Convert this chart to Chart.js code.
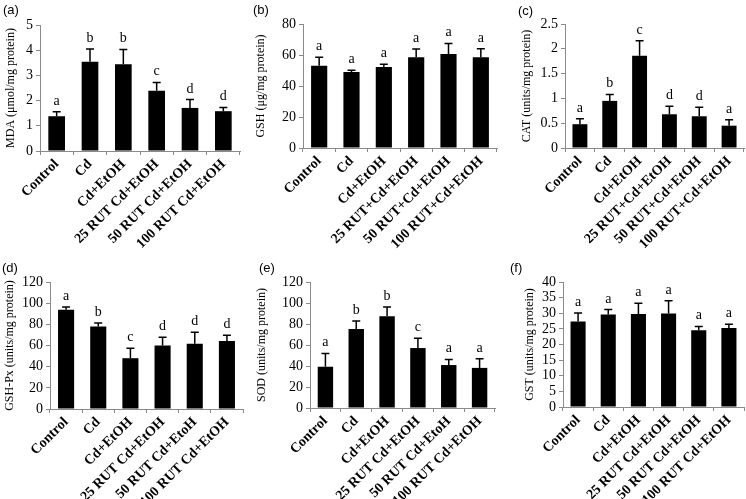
<!DOCTYPE html>
<html>
<head>
<meta charset="utf-8">
<script src="https://cdn.jsdelivr.net/npm/chart.js@4.4.1/dist/chart.umd.min.js"></script>
<style>
  body { margin: 0; background: #fff; }
  #wrap { position: relative; width: 746px; height: 499px; overflow: hidden; }
  .panel { position: absolute; }
  .tag { position: absolute; font: 13px "Liberation Sans", Arial, sans-serif; color: #000; }
</style>
</head>
<body>
<div id="wrap"></div>
<script>
// group names (the labels differ a little from panel to panel, as in the figure)
const groupsA = ['Control', 'Cd', 'Cd+EtOH', '25 RUT Cd+EtOH', '50 RUT Cd+EtOH', '100 RUT Cd+EtOH'];
const groupsB = ['Control', 'Cd', 'Cd+EtOH', '25 RUT+Cd+EtOH', '50 RUT+Cd+EtOH', '100 RUT+Cd+EtOH'];
const groupsD = ['Control', 'Cd', 'Cd+EtOH', '25 RUT Cd+EtOH', '50 RUT Cd+EtoH', '100 RUT Cd+EtOH'];

// (a) MDA
const mdaMean = [1.38, 3.54, 3.44, 2.39, 1.71, 1.58];
const mdaErr = [0.18, 0.51, 0.59, 0.33, 0.33, 0.15];
const mdaLetters = ['a', 'b', 'b', 'c', 'd', 'd'];
const mdaTicks = [0, 1, 2, 3, 4, 5];

// (b) GSH
const gshMean = [53.1, 49.0, 52.2, 58.6, 60.6, 58.6];
const gshErr = [5.4, 1.1, 1.8, 5.2, 6.9, 5.5];
const gshLetters = ['a', 'a', 'a', 'a', 'a', 'a'];
const gshTicks = [0, 20, 40, 60, 80];

// (c) CAT
const catMean = [0.48, 0.95, 1.86, 0.68, 0.64, 0.45];
const catErr = [0.11, 0.13, 0.30, 0.16, 0.18, 0.12];
const catLetters = ['a', 'b', 'c', 'd', 'd', 'a'];
const catTicks = [0, 0.5, 1, 1.5, 2, 2.5];

// (d) GSH-Px
const gpxMean = [93.8, 78.0, 48.0, 60.0, 61.6, 64.2];
const gpxErr = [2.5, 3.3, 9.5, 7.9, 11.0, 5.4];
const gpxLetters = ['a', 'b', 'c', 'd', 'd', 'd'];
const gpxTicks = [0, 20, 40, 60, 80, 100, 120];

// (e) SOD
const sodMean = [39.3, 75.2, 87.3, 57.1, 40.9, 38.2];
const sodErr = [12.7, 7.7, 8.9, 9.3, 5.4, 8.7];
const sodLetters = ['a', 'b', 'b', 'c', 'a', 'a'];
const sodTicks = [0, 20, 40, 60, 80, 100, 120];

// (f) GST
const gstMean = [27.4, 29.6, 29.8, 29.9, 24.6, 25.3];
const gstErr = [2.7, 1.6, 3.4, 4.1, 1.2, 1.2];
const gstLetters = ['a', 'a', 'a', 'a', 'a', 'a'];
const gstTicks = [0, 5, 10, 15, 20, 25, 30, 35, 40];

const panels = [
  { tag: '(a)', title: 'MDA (\u03bcmol/mg protein)', labels: groupsA, mean: mdaMean, err: mdaErr, letters: mdaLetters, ticks: mdaTicks },
  { tag: '(b)', title: 'GSH (\u03bcg/mg protein)', labels: groupsB, mean: gshMean, err: gshErr, letters: gshLetters, ticks: gshTicks },
  { tag: '(c)', title: 'CAT (units/mg protein)', labels: groupsB, mean: catMean, err: catErr, letters: catLetters, ticks: catTicks },
  { tag: '(d)', title: 'GSH-Px (units/mg protein)', labels: groupsD, mean: gpxMean, err: gpxErr, letters: gpxLetters, ticks: gpxTicks },
  { tag: '(e)', title: 'SOD (units/mg protein)', labels: groupsD, mean: sodMean, err: sodErr, letters: sodLetters, ticks: sodTicks },
  { tag: '(f)', title: 'GST (units/mg protein)', labels: groupsA, mean: gstMean, err: gstErr, letters: gstLetters, ticks: gstTicks }
];

// where each panel sits on the page
const boxes = [
  { left: 0, top: 0, w: 246, h: 250, yw: 40, padTop: 25, xh: 99, padRight: 6, titlePad: 4, tagX: 3, tagY: 2 },
  { left: 250, top: 0, w: 250, h: 250, yw: 53, padTop: 24, xh: 102, padRight: 3, titlePad: 4, tagX: 3, tagY: 2 },
  { left: 500, top: 0, w: 246, h: 250, yw: 65, padTop: 24, xh: 102, padRight: 2, titlePad: 20, tagX: 18, tagY: 3 },
  { left: 0, top: 250, w: 250, h: 249, yw: 50, padTop: 32, xh: 90, padRight: 7, titlePad: 3, tagX: 2, tagY: 10 },
  { left: 250, top: 250, w: 250, h: 249, yw: 60, padTop: 32, xh: 91, padRight: 5, titlePad: 5, tagX: 9, tagY: 10 },
  { left: 500, top: 250, w: 246, h: 249, yw: 63, padTop: 32, xh: 92, padRight: 2, titlePad: 23, tagX: 10, tagY: 10 }
];

const serif = '"Liberation Serif", "Times New Roman", serif';
const axisGrey = '#8a8a8a';

const errorBars = {
  id: 'errorBars',
  afterDatasetsDraw(chart, args, opts) {
    const ctx = chart.ctx;
    const y = chart.scales.y;
    const meta = chart.getDatasetMeta(0);
    ctx.save();
    ctx.strokeStyle = '#000';
    ctx.lineWidth = 1.5;
    ctx.fillStyle = '#000';
    ctx.font = '14px ' + serif;
    ctx.textAlign = 'center';
    ctx.textBaseline = 'alphabetic';
    meta.data.forEach((bar, i) => {
      const top = y.getPixelForValue(opts.mean[i] + opts.err[i]);
      ctx.beginPath();
      ctx.moveTo(bar.x, bar.y);
      ctx.lineTo(bar.x, top);
      ctx.moveTo(bar.x - 4, top);
      ctx.lineTo(bar.x + 4, top);
      ctx.stroke();
      ctx.fillText(opts.letters[i], bar.x, top - 7);
    });
    ctx.restore();
  }
};

const wrap = document.getElementById('wrap');

panels.forEach((p, k) => {
  const b = boxes[k];
  const div = document.createElement('div');
  div.className = 'panel';
  div.style.left = b.left + 'px';
  div.style.top = b.top + 'px';
  div.style.width = b.w + 'px';
  div.style.height = b.h + 'px';
  const canvas = document.createElement('canvas');
  canvas.width = b.w;
  canvas.height = b.h;
  div.appendChild(canvas);
  wrap.appendChild(div);

  const tag = document.createElement('div');
  tag.className = 'tag';
  tag.textContent = p.tag;
  tag.style.left = (b.left + b.tagX) + 'px';
  tag.style.top = (b.top + b.tagY) + 'px';
  wrap.appendChild(tag);

  const yMax = p.ticks[p.ticks.length - 1];

  new Chart(canvas, {
    type: 'bar',
    data: {
      labels: p.labels,
      datasets: [{
        data: p.mean,
        backgroundColor: '#000',
        borderWidth: 0,
        barPercentage: 0.5,
        categoryPercentage: 1
      }]
    },
    options: {
      responsive: false,
      animation: false,
      layout: { padding: { top: b.padTop, right: b.padRight, left: 0, bottom: 0 } },
      plugins: {
        legend: { display: false },
        tooltip: { enabled: false },
        errorBars: { mean: p.mean, err: p.err, letters: p.letters }
      },
      scales: {
        x: {
          afterFit: s => { s.height = b.xh; },
          grid: { drawOnChartArea: false, tickLength: 4, color: axisGrey, offset: true },
          border: { color: axisGrey, width: 1 },
          ticks: {
            autoSkip: false, minRotation: 45, maxRotation: 45, padding: 1,
            color: '#000', font: { family: serif, size: 14, weight: 'bold' }
          }
        },
        y: {
          min: 0,
          max: yMax,
          afterFit: s => { s.width = b.yw; },
          afterBuildTicks: s => { s.ticks = p.ticks.map(v => ({ value: v })); },
          grid: { drawOnChartArea: false, tickLength: 4, color: axisGrey },
          border: { color: axisGrey, width: 1 },
          ticks: {
            autoSkip: false, padding: 3, color: '#000', font: { family: serif, size: 14 },
            callback: v => String(v)
          },
          title: {
            display: true, text: p.title, color: '#000',
            font: { family: serif, size: 12 },
            padding: { top: b.titlePad, bottom: 0 }
          }
        }
      }
    },
    plugins: [errorBars]
  });
});
</script>
</body>
</html>
